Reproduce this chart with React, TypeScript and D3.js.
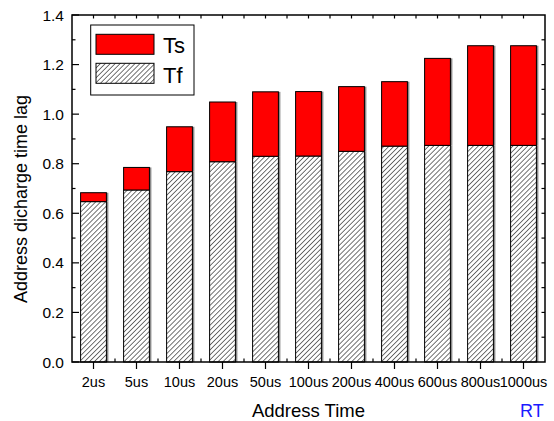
import * as d3 from 'd3';

const categories = ['2us', '5us', '10us', '20us', '50us', '100us', '200us', '400us', '600us', '800us', '1000us'];
const tfValues = [0.647, 0.694, 0.768, 0.808, 0.830, 0.831, 0.850, 0.871, 0.874, 0.874, 0.874];
const tsValues = [0.036, 0.091, 0.181, 0.241, 0.260, 0.260, 0.261, 0.260, 0.351, 0.402, 0.402];
const yTicks = [0, 0.2, 0.4, 0.6, 0.8, 1.0, 1.2, 1.4];
const seriesNames = ['Tf', 'Ts'];

const W = 554;
const H = 421;
const left = 72, right = 545, top = 15, bottom = 362;
const font = 'Liberation Sans, Arial, sans-serif';

export default function App() {
  const x = d3.scaleBand<string>().domain(categories).range([left, right]).paddingInner(0.4).paddingOuter(0.2);
  const y = d3.scaleLinear().domain([0, 1.4]).range([bottom, top]);

  const rows = categories.map((c, i) => ({ cat: c, Tf: tfValues[i], Ts: tsValues[i] }));
  const stacked = d3.stack<any>().keys(seriesNames)(rows);

  const step = x.step();
  const centers = categories.map(c => (x(c) as number) + x.bandwidth() / 2);
  const bounds = centers.slice(0, -1).map(c => c + step / 2);
  const minorY = d3.range(1, 14, 2).map(v => v / 10);
  const allY = d3.range(1, 14).map(v => v / 10);

  return (
    <svg width={W} height={H} style={{ position: 'absolute', left: 0, top: 0, background: '#fff' }} fontFamily={font}>
      <defs>
        <pattern id="hatch" patternUnits="userSpaceOnUse" width={3.5} height={3.5} patternTransform="rotate(45)">
          <rect width={3.5} height={3.5} fill="#fff" />
          <line x1={0} y1={0} x2={0} y2={3.5} stroke="#000" strokeWidth={1.1} />
        </pattern>
      </defs>

      {/* shadows */}
      {stacked.map(s => (
        <g key={s.key}>
          {s.map((d, i) => (
            <rect key={i} x={(x(categories[i]) as number) + 2} y={y(d[1])} width={x.bandwidth()} height={y(d[0]) - y(d[1])} fill="#8a8a8a" />
          ))}
        </g>
      ))}
      {/* bars */}
      {stacked.map(s => (
        <g key={s.key + 'b'}>
          {s.map((d, i) => (
            <rect key={i} x={x(categories[i])} y={y(d[1])} width={x.bandwidth()} height={y(d[0]) - y(d[1])}
              fill={s.key === 'Ts' ? '#ff0000' : 'url(#hatch)'} stroke="#000" strokeWidth={1} />
          ))}
        </g>
      ))}

      {/* frame */}
      <rect x={left} y={top} width={right - left} height={bottom - top} fill="none" stroke="#000" strokeWidth={1.5} />

      {/* left axis */}
      {yTicks.map(t => (
        <g key={'yl' + t}>
          <line x1={left} x2={left + 7} y1={y(t)} y2={y(t)} stroke="#000" strokeWidth={1.2} />
          <text x={64} y={y(t)} dy="0.36em" textAnchor="end" fontSize={15.5}>{d3.format('.1f')(t)}</text>
        </g>
      ))}
      {minorY.map(t => (
        <line key={'ym' + t} x1={left} x2={left + 3.5} y1={y(t)} y2={y(t)} stroke="#000" strokeWidth={1.2} />
      ))}
      {/* right axis */}
      {allY.map(t => (
        <line key={'yr' + t} x1={right} x2={right - 3.5} y1={y(t)} y2={y(t)} stroke="#000" strokeWidth={1.2} />
      ))}

      {/* bottom and top axis */}
      {categories.map((c, i) => (
        <g key={'xb' + c}>
          <line x1={centers[i]} x2={centers[i]} y1={bottom} y2={bottom + 7} stroke="#000" strokeWidth={1.2} />
          <text x={centers[i]} y={386.5} textAnchor="middle" fontSize={14.5}>{c}</text>
          <line x1={centers[i]} x2={centers[i]} y1={top} y2={top + 3.5} stroke="#000" strokeWidth={1.2} />
        </g>
      ))}
      {bounds.map((b, i) => (
        <g key={'xm' + i}>
          <line x1={b} x2={b} y1={bottom} y2={bottom - 3.5} stroke="#000" strokeWidth={1.2} />
          <line x1={b} x2={b} y1={top} y2={top + 3.5} stroke="#000" strokeWidth={1.2} />
        </g>
      ))}

      {/* axis titles */}
      <text transform="translate(26.5,199) rotate(-90)" textAnchor="middle" fontSize={18}>Address dicharge time lag</text>
      <text x={(left + right) / 2} y={416.5} textAnchor="middle" fontSize={18.5}>Address Time</text>
      <text x={520} y={416.5} fontSize={18} fill="#1a1aff">RT</text>

      {/* legend */}
      <rect x={90.7} y={25} width={103.3} height={70} fill="#fff" stroke="#000" strokeWidth={1} />
      <rect x={96} y={34.3} width={58} height={20} fill="#ff0000" stroke="#000" strokeWidth={1} />
      <text x={163} y={53} fontSize={22}>Ts</text>
      <rect x={96} y={63.3} width={58} height={20} fill="url(#hatch)" stroke="#000" strokeWidth={1} />
      <text x={163} y={82.5} fontSize={22}>Tf</text>
    </svg>
  );
}
